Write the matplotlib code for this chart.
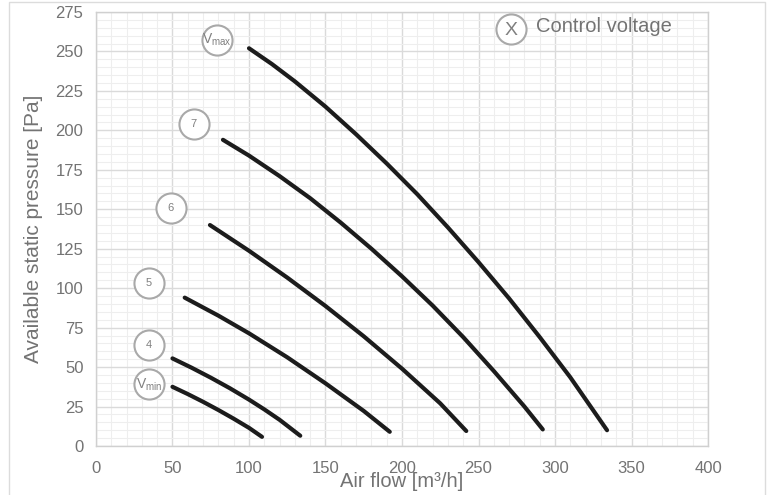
import matplotlib
matplotlib.use('Agg')
import matplotlib.pyplot as plt
from matplotlib.patches import Rectangle
from matplotlib.ticker import MultipleLocator

plt.rcParams['font.family'] = ['Liberation Sans', 'DejaVu Sans']
plt.rcParams['mathtext.fontset'] = 'custom'
plt.rcParams['mathtext.rm'] = 'Liberation Sans'
plt.rcParams['mathtext.it'] = 'Liberation Sans'

# courbes : débit [m3/h] -> pression [Pa]
flow_vmax = [100, 115, 130, 150, 170, 190, 210, 230, 250, 270, 290, 310, 334]
pres_vmax = [252, 242, 231, 215, 197.5, 179, 159.5, 138.5, 116.5, 93.5, 69, 43.5, 10]

flow_7 = [83, 100, 120, 140, 160, 180, 200, 220, 240, 260, 280, 292]
pres_7 = [194, 184, 171, 157, 141.5, 125, 107.5, 89, 69, 47.5, 25, 10.5]

flow_6 = [74.5, 100, 125, 150, 175, 200, 225, 242]
pres_6 = [140, 123.7, 106.7, 88.7, 69.5, 49, 27, 9.5]

flow_5 = [58, 80, 100, 125, 150, 175, 192]
pres_5 = [94, 82.6, 71.4, 56.2, 39.7, 22.2, 9]

flow_4 = [50, 62.5, 75, 87.5, 100, 110, 120, 133.5]
pres_4 = [55.5, 49.6, 43.3, 36.6, 29.4, 23.2, 16.6, 6.5]

flow_vmin = [50, 60, 70, 80, 90, 100, 108.5]
pres_vmin = [37.5, 32.9, 28, 22.8, 17.3, 11.5, 5.8]

curves = [(flow_vmax, pres_vmax), (flow_7, pres_7), (flow_6, pres_6),
          (flow_5, pres_5), (flow_4, pres_4), (flow_vmin, pres_vmin)]

# étiquettes des tensions de commande (cercles)
label_text = [r'V$_{\mathrm{max}}$', '7', '6', '5', '4', r'V$_{\mathrm{min}}$']
label_x = [79, 64, 49, 34.6, 34.6, 34.6]
label_y = [257.5, 204, 150.7, 103, 64, 39]
label_size = [10, 8, 8, 8, 8, 10]

gris_texte = '#737373'
gris_cercle = '#a9a9a9'

fig = plt.figure(figsize=(7.69, 4.95), dpi=100)
ax = fig.add_axes([0.1248, 0.099, 0.7959, 0.8768])

# cadre autour du graphique
fig.patches.append(Rectangle((9 / 769, -0.02), 756 / 769, 1.016,
                             transform=fig.transFigure, fill=False,
                             edgecolor='#dcdcdc', linewidth=1.0))

for x, y in curves:
    ax.plot(x, y, color='#1c1c1c', linewidth=3.0, solid_capstyle='round',
            solid_joinstyle='round', zorder=4)

ax.scatter(label_x, label_y, s=470, facecolor='white', edgecolor=gris_cercle,
           linewidth=1.5, zorder=5, clip_on=False)
for t, x, y, fs in zip(label_text, label_x, label_y, label_size):
    ax.text(x, y, t, ha='center', va='center', fontsize=fs, color='#808080', zorder=6)

# légende
ax.scatter([271.2], [264], s=470, facecolor='white', edgecolor=gris_cercle,
           linewidth=1.5, zorder=5, clip_on=False)
ax.text(271.2, 263.3, 'X', ha='center', va='center', fontsize=14, color='#808080', zorder=6)
ax.text(287.5, 265.5, 'Control voltage', ha='left', va='center', fontsize=14.5,
        color=gris_texte, zorder=6)

ax.set_xlim(0, 400)
ax.set_ylim(0, 275)
ax.xaxis.set_major_locator(MultipleLocator(50))
ax.xaxis.set_minor_locator(MultipleLocator(10))
ax.yaxis.set_major_locator(MultipleLocator(25))
ax.yaxis.set_minor_locator(MultipleLocator(5))

ax.grid(which='major', color='#dadada', linewidth=1.0, zorder=0)
ax.grid(which='minor', color='#eeeeee', linewidth=0.8, zorder=0)
ax.set_axisbelow(True)

ax.tick_params(which='both', length=0)
ax.tick_params(axis='y', pad=9, labelsize=12, labelcolor=gris_texte)
ax.tick_params(axis='x', pad=11, labelsize=12, labelcolor=gris_texte)

for s in ax.spines.values():
    s.set_color('#d0d0d0')
    s.set_linewidth(1.0)

ax.set_xlabel('Air flow [m³/h]', fontsize=14.5, color=gris_texte)
ax.xaxis.set_label_coords(0.5, -0.06)
ax.set_ylabel('Available static pressure [Pa]', fontsize=15, color=gris_texte)
ax.yaxis.set_label_coords(-0.086, 0.5)

fig.savefig('out.png', dpi=100)
